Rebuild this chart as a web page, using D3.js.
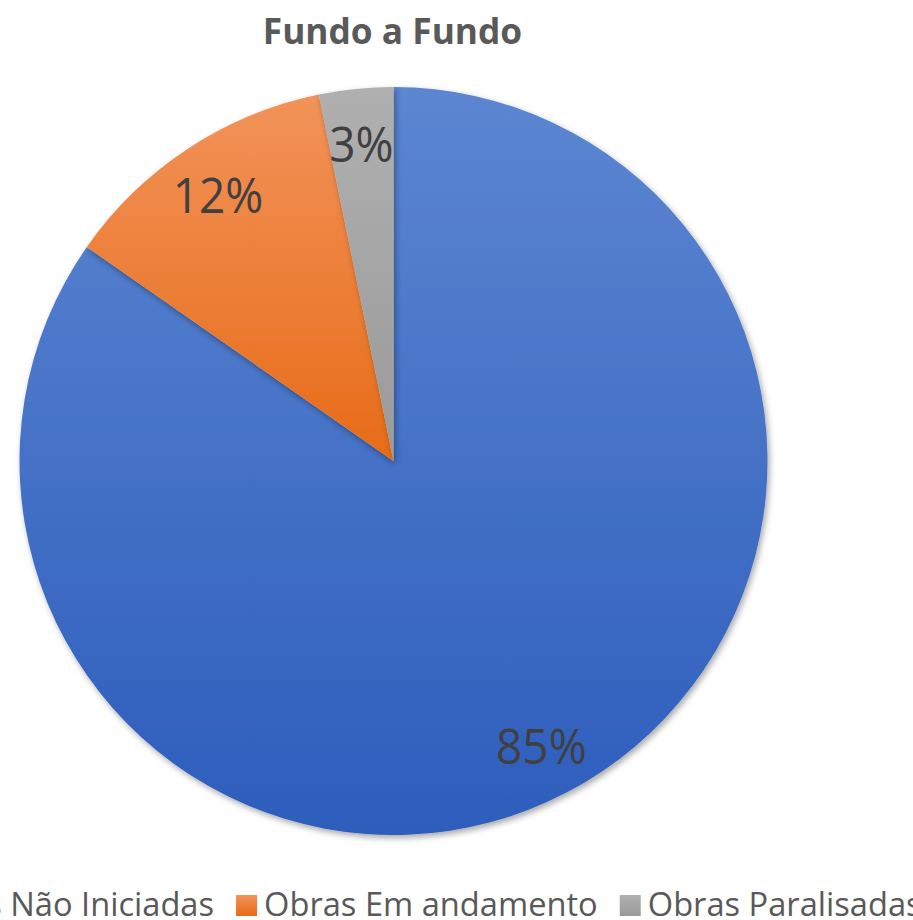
<!DOCTYPE html>
<html>
<head>
<meta charset="utf-8">
<script src="https://cdn.jsdelivr.net/npm/d3@7"></script>
<style>
  body { margin: 0; background: #fff; }
  svg { display: block; font-family: "Open Sans", "Noto Sans", sans-serif; }
</style>
</head>
<body>
<div id="chart"></div>
<script>
// Data
const categories = ["Obras Não Iniciadas", "Obras Em andamento", "Obras Paralisadas"];
const values = [84.7, 12.1, 3.2];
const labels = ["85%", "12%", "3%"];
const title = "Fundo a Fundo";

const width = 913, height = 920;
const cx = 393.5, cy = 461, radius = 374;

const colorTop = ["#5c86d1", "#f2935a", "#b0b0b0"];
const colorBottom = ["#2d5dbc", "#e76b17", "#9a9a9a"];

const svg = d3.select("#chart")
    .append("svg")
    .attr("width", width)
    .attr("height", height);

const defs = svg.append("defs");

categories.forEach((c, i) => {
    const g = defs.append("linearGradient")
        .attr("id", "grad" + i)
        .attr("x1", 0).attr("y1", 0)
        .attr("x2", 0).attr("y2", 1);
    g.append("stop").attr("offset", "0%").attr("stop-color", colorTop[i]);
    g.append("stop").attr("offset", "100%").attr("stop-color", colorBottom[i]);
});

defs.append("filter")
    .attr("id", "shadow")
    .attr("x", "-10%").attr("y", "-10%")
    .attr("width", "120%").attr("height", "120%")
    .append("feDropShadow")
    .attr("dx", 2).attr("dy", 3)
    .attr("stdDeviation", 3)
    .attr("flood-color", "#000")
    .attr("flood-opacity", 0.35);

// Title
svg.append("text")
    .attr("transform", `translate(${cx - 1},44) scale(0.98,1)`)
    .attr("text-anchor", "middle")
    .attr("font-size", 36)
    .attr("font-weight", "bold")
    .attr("fill", "#595959")
    .text(title);

// Pie
const pie = d3.pie().sort(null).value(d => d)(values);
const arc = d3.arc().innerRadius(0).outerRadius(radius);
const labelArc = d3.arc().innerRadius(radius * 0.855).outerRadius(radius * 0.855);

const pieG = svg.append("g")
    .attr("transform", `translate(${cx},${cy})`);

pieG.selectAll("path")
    .data(pie)
    .enter()
    .append("path")
    .attr("d", arc)
    .attr("fill", (d, i) => `url(#grad${i})`)
    .attr("filter", "url(#shadow)");

pieG.selectAll("text")
    .data(pie)
    .enter()
    .append("text")
    .attr("text-anchor", "middle")
    .attr("dominant-baseline", "central")
    .attr("font-size", 50)
    .attr("fill", "#404040")
    .attr("transform", d => {
        const [x, y] = labelArc.centroid(d);
        return `translate(${x},${y}) scale(0.92,1)`;
    })
    .text((d, i) => labels[i]);

// Legend (overflows the frame on both sides, as in the original)
const fontSize = 32, marker = 21, markerGap = 7, itemGap = 22;
const squeeze = 1.02;
const legend = svg.append("g");

const items = legend.selectAll("g")
    .data(categories)
    .enter()
    .append("g");

items.append("rect")
    .attr("width", marker)
    .attr("height", marker)
    .attr("y", -marker)
    .attr("fill", (d, i) => `url(#grad${i})`);

items.append("text")
    .attr("font-size", fontSize)
    .attr("fill", "#595959")
    .attr("transform", `translate(${marker + markerGap},0) scale(${squeeze},1)`)
    .text(d => d);

const widths = [];
items.select("text").each(function() {
    widths.push(this.getComputedTextLength() * squeeze);
});

let x = 0;
const offsets = widths.map(w => {
    const o = x;
    x += marker + markerGap + w + itemGap;
    return o;
});
const total = x - itemGap;

items.attr("transform", (d, i) => `translate(${offsets[i]},0)`);
legend.attr("transform", `translate(${cx + 8 - total / 2},916)`);
</script>
</body>
</html>
